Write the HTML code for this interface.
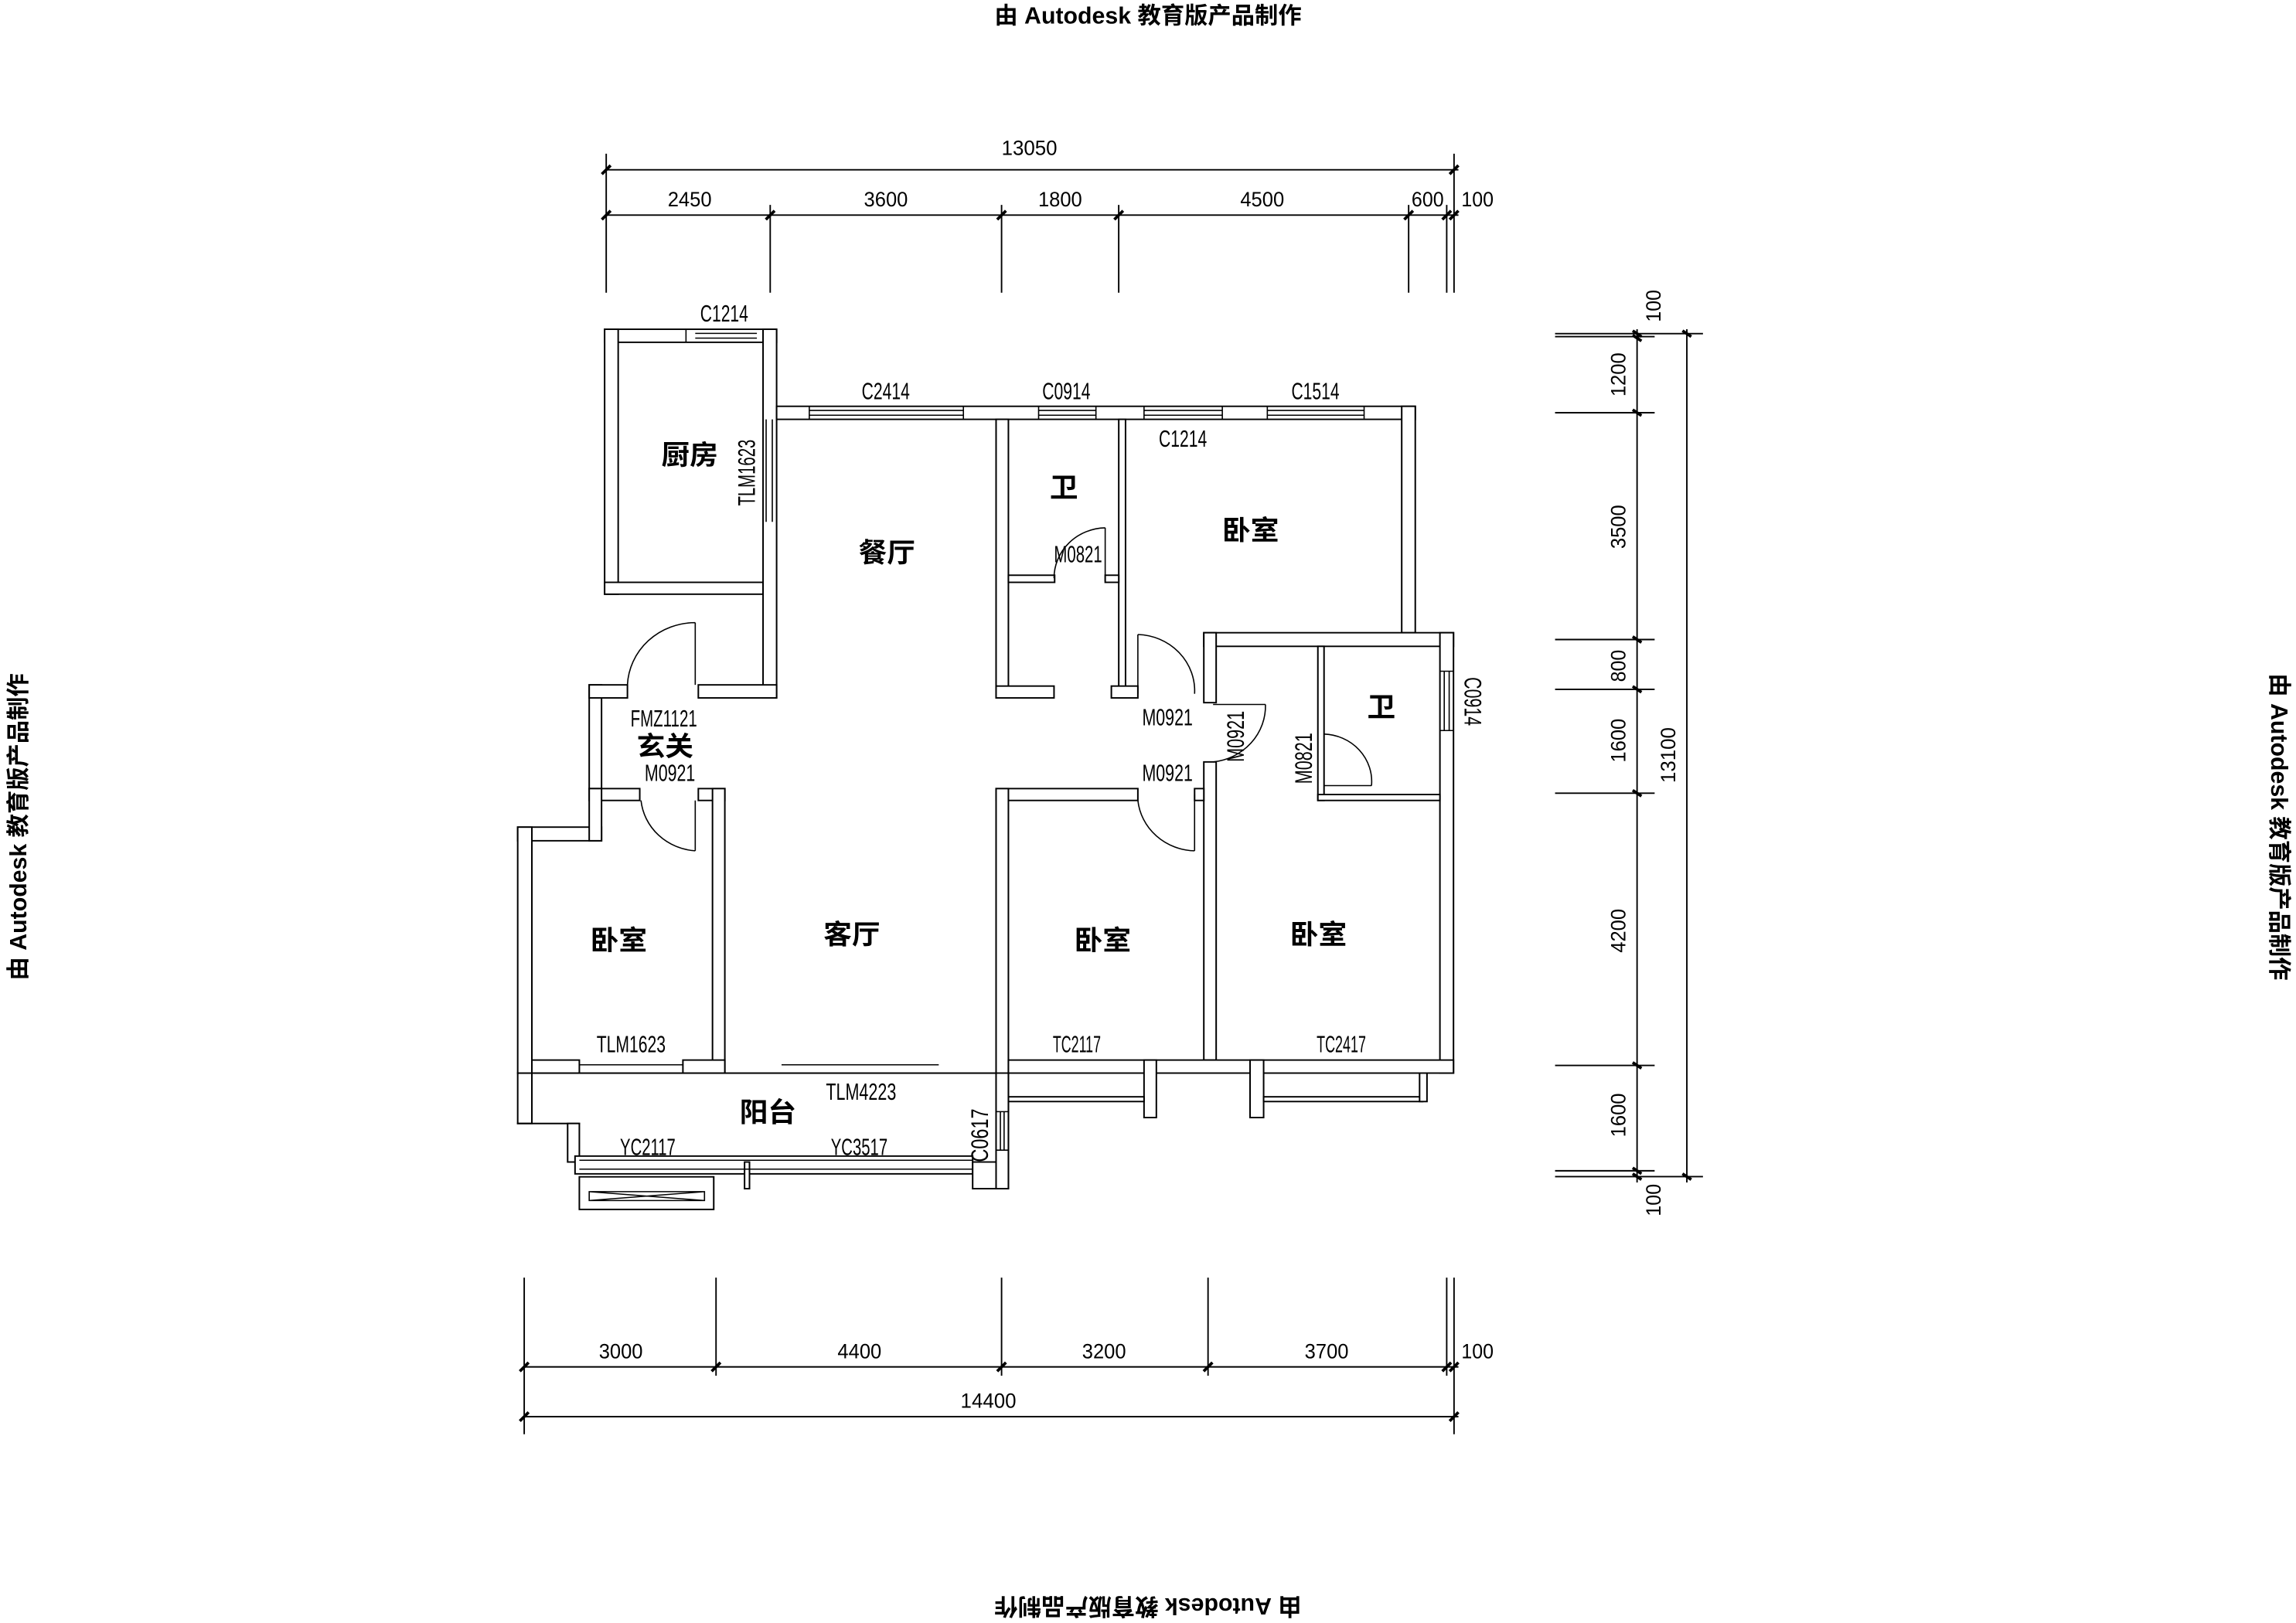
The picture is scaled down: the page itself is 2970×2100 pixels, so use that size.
<!DOCTYPE html>
<html><head><meta charset="utf-8"><style>
html,body{margin:0;padding:0;background:#fff;}
svg{display:block;}
text{font-family:"Liberation Sans","Noto Sans CJK SC",sans-serif;fill:#000;}
.d{font-size:14px;}
.wm{font-size:16px;font-weight:bold;}
.r{font-size:46px;font-weight:bold;}
.s{font-size:40px;}
</style></head><body>
<svg width="2970" height="2100" viewBox="0 0 1568 1109" preserveAspectRatio="none" xmlns="http://www.w3.org/2000/svg">
<rect width="1568" height="1109" fill="#fff"/>
<!-- watermarks -->
<text class="wm" x="784" y="16" text-anchor="middle">由 Autodesk 教育版产品制作</text>
<text class="wm" x="784" y="1104" text-anchor="middle" transform="rotate(180 784 1098)">由 Autodesk 教育版产品制作</text>
<text class="wm" transform="translate(18 565) rotate(-90)" text-anchor="middle">由 Autodesk 教育版产品制作</text>
<text class="wm" transform="translate(1551 565) rotate(90)" text-anchor="middle">由 Autodesk 教育版产品制作</text>

<!-- dimensions -->
<g stroke="#000" stroke-width="1" fill="none">
<line x1="414" y1="116" x2="996" y2="116"/>
<line x1="414" y1="147" x2="996" y2="147"/>
<g>
<line x1="414" y1="105" x2="414" y2="200"/><line x1="526" y1="140" x2="526" y2="200"/>
<line x1="684" y1="140" x2="684" y2="200"/><line x1="764" y1="140" x2="764" y2="200"/>
<line x1="962" y1="140" x2="962" y2="200"/><line x1="988" y1="140" x2="988" y2="200"/>
<line x1="993" y1="105" x2="993" y2="200"/>
</g>
<g stroke-width="2">
<line x1="411" y1="119" x2="417" y2="113"/><line x1="990" y1="119" x2="996" y2="113"/>
<line x1="411" y1="150" x2="417" y2="144"/><line x1="523" y1="150" x2="529" y2="144"/>
<line x1="681" y1="150" x2="687" y2="144"/><line x1="761" y1="150" x2="767" y2="144"/>
<line x1="959" y1="150" x2="965" y2="144"/><line x1="985" y1="150" x2="991" y2="144"/>
<line x1="990" y1="150" x2="996" y2="144"/>
</g>
<!-- right -->
<line x1="1118" y1="225" x2="1118" y2="808"/>
<line x1="1152" y1="225" x2="1152" y2="808"/>
<line x1="1062" y1="228" x2="1163" y2="228"/><line x1="1062" y1="230" x2="1130" y2="230"/>
<line x1="1062" y1="282" x2="1130" y2="282"/><line x1="1062" y1="437" x2="1130" y2="437"/>
<line x1="1062" y1="471" x2="1130" y2="471"/><line x1="1062" y1="542" x2="1130" y2="542"/>
<line x1="1062" y1="728" x2="1130" y2="728"/><line x1="1062" y1="800" x2="1130" y2="800"/>
<line x1="1062" y1="804" x2="1163" y2="804"/>
<g stroke-width="2">
<line x1="1115" y1="226" x2="1121" y2="230"/><line x1="1115" y1="229" x2="1121" y2="233"/>
<line x1="1115" y1="280" x2="1121" y2="284"/><line x1="1115" y1="435" x2="1121" y2="439"/>
<line x1="1115" y1="469" x2="1121" y2="473"/><line x1="1115" y1="540" x2="1121" y2="544"/>
<line x1="1115" y1="726" x2="1121" y2="730"/><line x1="1115" y1="798" x2="1121" y2="802"/>
<line x1="1115" y1="802" x2="1121" y2="806"/>
<line x1="1149" y1="226" x2="1155" y2="230"/><line x1="1149" y1="802" x2="1155" y2="806"/>
</g>
<!-- bottom -->
<line x1="358" y1="934" x2="996" y2="934"/>
<line x1="358" y1="968" x2="996" y2="968"/>
<line x1="358" y1="873" x2="358" y2="980"/><line x1="489" y1="873" x2="489" y2="940"/>
<line x1="684" y1="873" x2="684" y2="940"/><line x1="825" y1="873" x2="825" y2="940"/>
<line x1="988" y1="873" x2="988" y2="940"/><line x1="993" y1="873" x2="993" y2="980"/>
<g stroke-width="2">
<line x1="355" y1="937" x2="361" y2="931"/><line x1="486" y1="937" x2="492" y2="931"/>
<line x1="681" y1="937" x2="687" y2="931"/><line x1="822" y1="937" x2="828" y2="931"/>
<line x1="985" y1="937" x2="991" y2="931"/><line x1="990" y1="937" x2="996" y2="931"/>
<line x1="355" y1="971" x2="361" y2="965"/><line x1="990" y1="971" x2="996" y2="965"/>
</g>
</g>
<g class="d">
<text x="703" y="106" text-anchor="middle" textLength="38" lengthAdjust="spacingAndGlyphs">13050</text>
<text x="471" y="141" text-anchor="middle" textLength="30" lengthAdjust="spacingAndGlyphs">2450</text>
<text x="605" y="141" text-anchor="middle" textLength="30" lengthAdjust="spacingAndGlyphs">3600</text>
<text x="724" y="141" text-anchor="middle" textLength="30" lengthAdjust="spacingAndGlyphs">1800</text>
<text x="862" y="141" text-anchor="middle" textLength="30" lengthAdjust="spacingAndGlyphs">4500</text>
<text x="975" y="141" text-anchor="middle" textLength="22" lengthAdjust="spacingAndGlyphs">600</text>
<text x="1009" y="141" text-anchor="middle" textLength="22" lengthAdjust="spacingAndGlyphs">100</text>
<text x="424" y="928" text-anchor="middle" textLength="30" lengthAdjust="spacingAndGlyphs">3000</text>
<text x="587" y="928" text-anchor="middle" textLength="30" lengthAdjust="spacingAndGlyphs">4400</text>
<text x="754" y="928" text-anchor="middle" textLength="30" lengthAdjust="spacingAndGlyphs">3200</text>
<text x="906" y="928" text-anchor="middle" textLength="30" lengthAdjust="spacingAndGlyphs">3700</text>
<text x="1009" y="928" text-anchor="middle" textLength="22" lengthAdjust="spacingAndGlyphs">100</text>
<text x="675" y="962" text-anchor="middle" textLength="38" lengthAdjust="spacingAndGlyphs">14400</text>
<g text-anchor="middle">
<text transform="translate(1134 209) rotate(-90)" textLength="22" lengthAdjust="spacingAndGlyphs">100</text>
<text transform="translate(1110 256) rotate(-90)" textLength="30" lengthAdjust="spacingAndGlyphs">1200</text>
<text transform="translate(1110 360) rotate(-90)" textLength="30" lengthAdjust="spacingAndGlyphs">3500</text>
<text transform="translate(1110 455) rotate(-90)" textLength="22" lengthAdjust="spacingAndGlyphs">800</text>
<text transform="translate(1110 506) rotate(-90)" textLength="30" lengthAdjust="spacingAndGlyphs">1600</text>
<text transform="translate(1110 636) rotate(-90)" textLength="30" lengthAdjust="spacingAndGlyphs">4200</text>
<text transform="translate(1110 762) rotate(-90)" textLength="30" lengthAdjust="spacingAndGlyphs">1600</text>
<text transform="translate(1144 516) rotate(-90)" textLength="38" lengthAdjust="spacingAndGlyphs">13100</text>
<text transform="translate(1134 820) rotate(-90)" textLength="22" lengthAdjust="spacingAndGlyphs">100</text>
</g>
</g>

<!-- plan in zoom coordinates -->
<g transform="translate(348.5 210.8) scale(0.421 0.405)">
<g fill="#fff" stroke="#000" stroke-width="2.5">
<rect x="153" y="35" width="279" height="22"/>
<rect x="153" y="35" width="22" height="447"/>
<rect x="153" y="462" width="257" height="20"/>
<rect x="410" y="35" width="22" height="622"/>
<rect x="305" y="635" width="127" height="22"/>
<rect x="432" y="165" width="1036" height="22"/>
<rect x="1446" y="165" width="22" height="382"/>
<rect x="1125" y="547" width="405" height="23"/>
<rect x="1508" y="547" width="22" height="743"/>
<rect x="788" y="187" width="20" height="470"/>
<rect x="987" y="187" width="11" height="470"/>
<rect x="808" y="450" width="75" height="12"/>
<rect x="965" y="450" width="22" height="12"/>
<rect x="788" y="637" width="94" height="20"/>
<rect x="975" y="637" width="43" height="20"/>
<rect x="1125" y="547" width="20" height="118"/>
<rect x="1125" y="765" width="20" height="503"/>
<rect x="1310" y="570" width="10" height="260"/>
<rect x="1310" y="820" width="198" height="10"/>
<rect x="788" y="810" width="230" height="20"/>
<rect x="788" y="810" width="20" height="675"/>
<rect x="1110" y="810" width="15" height="20"/>
<rect x="808" y="1268" width="722" height="22"/>
<rect x="1028" y="1268" width="20" height="97"/>
<rect x="1200" y="1268" width="22" height="97"/>
<rect x="808" y="1330" width="220" height="8"/>
<rect x="1222" y="1330" width="258" height="8"/>
<rect x="1475" y="1290" width="12" height="48"/>
<rect x="128" y="635" width="20" height="175"/>
<rect x="128" y="635" width="62" height="22"/>
<rect x="128" y="810" width="82" height="20"/>
<rect x="305" y="810" width="43" height="20"/>
<rect x="12" y="875" width="136" height="23"/>
<rect x="128" y="810" width="20" height="88"/>
<rect x="12" y="875" width="23" height="500"/>
<rect x="328" y="810" width="20" height="480"/>
<rect x="35" y="1268" width="77" height="22"/>
<rect x="280" y="1268" width="68" height="22"/>
<rect x="12" y="1290" width="776" height="0.1"/>
<rect x="12" y="1375" width="100" height="0.1"/>
<rect x="93" y="1375" width="19" height="65"/>
<rect x="105" y="1430" width="645" height="30"/>
<rect x="750" y="1440" width="58" height="45"/>
<rect x="788" y="1290" width="20" height="195"/>
<rect x="112" y="1465" width="218" height="55"/>
<rect x="380" y="1440" width="8" height="45"/>
</g>
<g stroke="#000" stroke-width="2" fill="none">
<path d="M285 35V57M410 35V57M300 42H400M300 50H400"/>
<path d="M485 165V187M735 165V187M485 172H735M485 180H735"/>
<path d="M857 165V187M950 165V187M857 172H950M857 180H950"/>
<path d="M1028 165V187M1155 165V187M1028 172H1155M1028 180H1155"/>
<path d="M1228 165V187M1385 165V187M1228 172H1385M1228 180H1385"/>
<path d="M1508 612H1530M1508 712H1530M1515 612V712M1523 612V712"/>
<path d="M788 1355H808M788 1420H808M795 1355V1420M801 1355V1420"/>
<path d="M112 1437H750M112 1452H750"/>
<path d="M128 1490H315V1505H128ZM128 1490L315 1505M128 1505L315 1490"/>
<path d="M440 1276H695M112 1276H280M415 187V360M425 187V360"/>
<path d="M300 530V635M300 530A110 110 0 0 0 190 635"/>
<path d="M300 830V915M300 915A95 95 0 0 1 212 830"/>
<path d="M965 370V460M965 370A85 85 0 0 0 882 455"/>
<path d="M1018 550V650M1018 550A95 95 0 0 1 1110 650"/>
<path d="M1110 820V915M1110 915A95 95 0 0 1 1018 830"/>
<path d="M1225 668H1140M1225 668A95 95 0 0 1 1140 765"/>
<path d="M1320 805H1397M1320 718A80 80 0 0 1 1397 805"/>
</g>
<g class="r">
<text x="245" y="263">厨房</text>
<text x="565" y="428">餐厅</text>
<text x="875" y="318">卫</text>
<text x="1155" y="390">卧室</text>
<text x="1390" y="688">卫</text>
<text x="205" y="755">玄关</text>
<text x="130" y="1082">卧室</text>
<text x="508" y="1072">客厅</text>
<text x="915" y="1082">卧室</text>
<text x="1265" y="1072">卧室</text>
<text x="372" y="1372">阳台</text>
</g>
<g class="s">
<text x="308" y="22" textLength="78" lengthAdjust="spacingAndGlyphs">C1214</text>
<text x="570" y="153" textLength="78" lengthAdjust="spacingAndGlyphs">C2414</text>
<text x="863" y="153" textLength="78" lengthAdjust="spacingAndGlyphs">C0914</text>
<text x="1267" y="153" textLength="78" lengthAdjust="spacingAndGlyphs">C1514</text>
<text x="1052" y="233" textLength="78" lengthAdjust="spacingAndGlyphs">C1214</text>
<text x="882" y="428" textLength="78" lengthAdjust="spacingAndGlyphs">M0821</text>
<text x="195" y="705" textLength="108" lengthAdjust="spacingAndGlyphs">FMZ1121</text>
<text x="218" y="797" textLength="82" lengthAdjust="spacingAndGlyphs">M0921</text>
<text x="1025" y="703" textLength="82" lengthAdjust="spacingAndGlyphs">M0921</text>
<text x="1025" y="797" textLength="82" lengthAdjust="spacingAndGlyphs">M0921</text>
<text x="140" y="1255" textLength="112" lengthAdjust="spacingAndGlyphs">TLM1623</text>
<text x="880" y="1255" textLength="78" lengthAdjust="spacingAndGlyphs">TC2117</text>
<text x="1308" y="1255" textLength="80" lengthAdjust="spacingAndGlyphs">TC2417</text>
<text x="512" y="1335" textLength="114" lengthAdjust="spacingAndGlyphs">TLM4223</text>
<text x="178" y="1428" textLength="90" lengthAdjust="spacingAndGlyphs">YC2117</text>
<text x="520" y="1428" textLength="92" lengthAdjust="spacingAndGlyphs">YC3517</text>
<text transform="translate(397 333) rotate(-90)" textLength="112" lengthAdjust="spacingAndGlyphs">TLM1623</text>
<text transform="translate(1190 765) rotate(-90)" textLength="86" lengthAdjust="spacingAndGlyphs">M0921</text>
<text transform="translate(1300 802) rotate(-90)" textLength="86" lengthAdjust="spacingAndGlyphs">M0821</text>
<text transform="translate(1548 622) rotate(90)" textLength="82" lengthAdjust="spacingAndGlyphs">C0914</text>
<text transform="translate(775 1440) rotate(-90)" textLength="90" lengthAdjust="spacingAndGlyphs">C0617</text>
</g>
</g>
</svg>
</body></html>
